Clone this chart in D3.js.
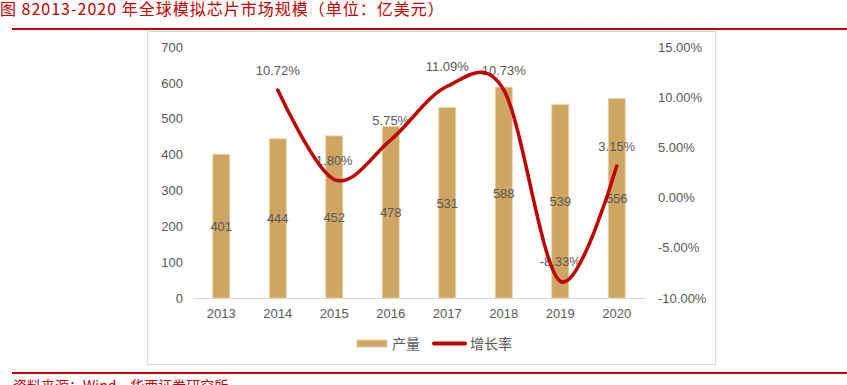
<!DOCTYPE html>
<meta charset="utf-8">
<head>
    <script src="https://d3js.org/d3.v7.min.js"></script>
    <style>
        body { margin: 0; background: #fff; }
        text { font-family: 'Liberation Sans', Arial, sans-serif; }
        .cjk { font-family: 'Noto Sans CJK SC', sans-serif; }
    </style>
</head>
<body>
    <div id="chart"></div>
    <script>

    // data
    var years = ["2013", "2014", "2015", "2016", "2017", "2018", "2019", "2020"]
    var output = [401, 444, 452, 478, 531, 588, 539, 556]
    var growthYears = ["2014", "2015", "2016", "2017", "2018", "2019", "2020"]
    var growth = [0.1072, 0.0180, 0.0575, 0.1109, 0.1073, -0.0833, 0.0315]
    var leftTicks = [0, 100, 200, 300, 400, 500, 600, 700]
    var rightTicks = [-0.10, -0.05, 0, 0.05, 0.10, 0.15]

    var width = 847,
        height = 385

    var red = "#c00000",
        barColor = "#cea662",
        textColor = "#595959"

    // percent with a plain hyphen, as in the original
    var pct = function(d) { return (d * 100).toFixed(2) + "%" }

    var svg = d3.select("#chart")
                .append("svg")
                .attr("width", width)
                .attr("height", height)

    // title + header rule
    svg.append("text")
        .attr("class", "cjk")
        .attr("x", 0)
        .attr("y", 15)
        .attr("fill", red)
        .style("font-size", "16px")
        .style("letter-spacing", "1px")
        .text("图 82013-2020 年全球模拟芯片市场规模（单位：亿美元）")

    svg.append("line")
        .attr("x1", 12).attr("x2", width)
        .attr("y1", 29).attr("y2", 29)
        .attr("stroke", red)
        .attr("stroke-width", 2)

    // chart frame
    svg.append("rect")
        .attr("x", 147.5).attr("y", 31.5)
        .attr("width", 568).attr("height", 333)
        .attr("fill", "none")
        .attr("stroke", "#d9d9d9")

    // scales
    var x = d3.scaleBand()
              .domain(years)
              .range([193, 645])
              .paddingInner(0.7)
              .paddingOuter(0.35)

    var y = d3.scaleLinear().domain([0, 700]).range([298, 47])
    var y2 = d3.scaleLinear().domain([-0.10, 0.15]).range([298, 47])

    var cx = function(yr) { return x(yr) + x.bandwidth() / 2 }

    // left axis
    var left = svg.append("g")
        .attr("transform", "translate(183,0)")
        .call(d3.axisLeft(y).tickValues(leftTicks).tickSize(0).tickPadding(0))
    left.select(".domain").remove()
    left.selectAll("text").attr("fill", textColor).style("font-size", "13px")

    // right axis
    var right = svg.append("g")
        .attr("transform", "translate(658,0)")
        .call(d3.axisRight(y2).tickValues(rightTicks).tickSize(0).tickPadding(0).tickFormat(pct))
    right.select(".domain").remove()
    right.selectAll("text").attr("fill", textColor).style("font-size", "13px")

    // bottom axis
    var bottom = svg.append("g")
        .attr("transform", "translate(0,298)")
        .call(d3.axisBottom(x).tickSize(0).tickPadding(11))
    bottom.select(".domain").attr("stroke", "#d9d9d9")
    bottom.selectAll("text").attr("fill", textColor).style("font-size", "13px")

    // bars
    svg.selectAll("allBars")
        .data(output)
        .enter()
        .append("rect")
        .attr("x", function(d, i) { return x(years[i]) })
        .attr("y", function(d) { return y(d) })
        .attr("width", x.bandwidth())
        .attr("height", function(d) { return y(0) - y(d) })
        .attr("fill", barColor)
        .attr("stroke", "#ecd3a6")
        .attr("stroke-width", 0.8)

    svg.selectAll("allBarLabels")
        .data(output)
        .enter()
        .append("text")
        .attr("x", function(d, i) { return cx(years[i]) })
        .attr("y", function(d) { return (y(d) + y(0)) / 2 + 5 })
        .attr("text-anchor", "middle")
        .attr("fill", textColor)
        .style("font-size", "13px")
        .text(function(d) { return d })

    // growth labels (line is drawn over them, like the original)
    svg.selectAll("allLineLabels")
        .data(growth)
        .enter()
        .append("text")
        .attr("x", function(d, i) { return cx(growthYears[i]) })
        .attr("y", function(d) { return y2(d) - 15 })
        .attr("text-anchor", "middle")
        .attr("fill", textColor)
        .style("font-size", "13px")
        .text(pct)

    var line = d3.line()
                 .x(function(d, i) { return cx(growthYears[i]) })
                 .y(function(d) { return y2(d) })
                 .curve(d3.curveCatmullRom.alpha(0))

    svg.append("path")
        .datum(growth)
        .attr("d", line)
        .attr("fill", "none")
        .attr("stroke", red)
        .attr("stroke-width", 3.5)
        .attr("stroke-linecap", "round")

    // legend
    var legend = svg.append("g").attr("class", "cjk")
    legend.append("rect")
        .attr("x", 357).attr("y", 340)
        .attr("width", 30).attr("height", 7)
        .attr("fill", barColor)
        .attr("stroke", "#ecd3a6")
    legend.append("text")
        .attr("class", "cjk")
        .attr("x", 392).attr("y", 349)
        .attr("fill", textColor)
        .style("font-size", "14px")
        .text("产量")
    legend.append("line")
        .attr("x1", 434).attr("x2", 465)
        .attr("y1", 343.5).attr("y2", 343.5)
        .attr("stroke", red)
        .attr("stroke-width", 4)
        .attr("stroke-linecap", "round")
    legend.append("text")
        .attr("class", "cjk")
        .attr("x", 470).attr("y", 349)
        .attr("fill", textColor)
        .style("font-size", "14px")
        .text("增长率")

    // footer rule + source (cut by the bottom edge, as in the original)
    svg.append("line")
        .attr("x1", 12).attr("x2", width)
        .attr("y1", 373).attr("y2", 373)
        .attr("stroke", red)
        .attr("stroke-width", 2)

    svg.append("text")
        .attr("class", "cjk")
        .attr("x", 13)
        .attr("y", 391)
        .attr("fill", red)
        .style("font-size", "14px")
        .text("资料来源：Wind，华西证券研究所")
    </script>
</body>
